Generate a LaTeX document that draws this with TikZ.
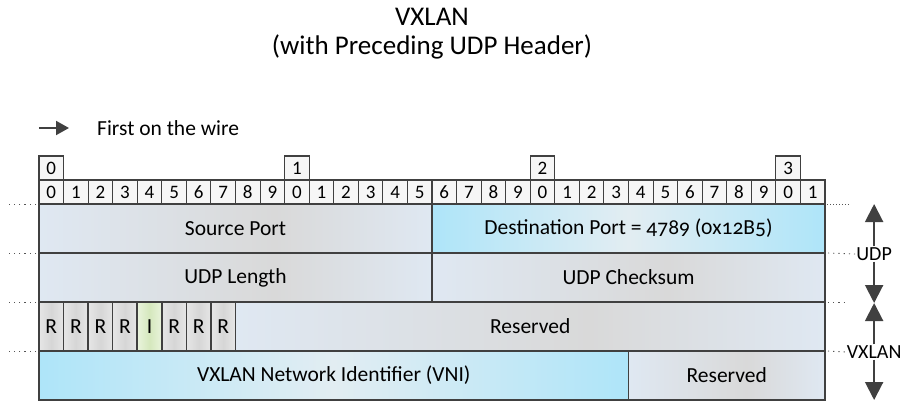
\documentclass[tikz,border=0pt]{standalone}
\usepackage{fontspec}
\setmainfont{Carlito}
\usetikzlibrary{arrows.meta,positioning}

\definecolor{edge}{HTML}{404040}
\definecolor{leadgrey}{HTML}{555555}
\definecolor{bitfill}{HTML}{F6F6F6}
\definecolor{paleblue}{HTML}{DFE8F2}
\definecolor{midgrey}{HTML}{D9D9D9}
\definecolor{cyanfld}{HTML}{AEE5F9}
\definecolor{cyanmid}{HTML}{E2EDF2}
\definecolor{rgreyl}{HTML}{E6E6E6}
\definecolor{rgreym}{HTML}{D6D6D6}
\definecolor{greenl}{HTML}{E9F3DC}
\definecolor{greenm}{HTML}{D5E8BD}

% shadings: the middle 50bp is what lands on the node
\pgfdeclarehorizontalshading{greyfield}{100bp}{color(0bp)=(paleblue); color(25bp)=(paleblue); color(55bp)=(midgrey); color(75bp)=(paleblue); color(100bp)=(paleblue)}
\pgfdeclarehorizontalshading{bluefield}{100bp}{color(0bp)=(cyanfld); color(25bp)=(cyanfld); color(50bp)=(cyanmid); color(75bp)=(cyanfld); color(100bp)=(cyanfld)}
\pgfdeclarehorizontalshading{rfield}{100bp}{color(0bp)=(rgreyl); color(25bp)=(rgreyl); color(50bp)=(rgreym); color(75bp)=(rgreyl); color(100bp)=(rgreyl)}
\pgfdeclarehorizontalshading{ifield}{100bp}{color(0bp)=(greenl); color(25bp)=(greenl); color(50bp)=(greenm); color(75bp)=(greenl); color(100bp)=(greenl)}

\newcommand{\bw}{24.5625pt}
\newcommand{\fieldfont}{\fontsize{21.5}{25}\selectfont}
\newcommand{\bitfont}{\fontsize{19}{21}\selectfont}
\newcommand{\headfont}{\fontsize{27}{29}\selectfont}

\begin{document}
\begin{tikzpicture}[
    x=24.5625pt, y=-1pt,
    bitcell/.style={rectangle, draw=edge, line width=1.1pt, fill=bitfill, minimum width=\bw, minimum height=24pt, inner sep=0pt, outer sep=0pt, anchor=north west, font=\bitfont},
    field/.style={rectangle, draw=edge, line width=1.6pt, shading=greyfield, minimum height=49pt, inner sep=0pt, outer sep=0pt, anchor=north west, font=\fieldfont},
    flagcell/.style={field, minimum width=\bw, shading=rfield},
    leader/.style={leadgrey, line width=0.9pt, dash pattern=on 1.2pt off 4pt},
    sidearrow/.style={-{Triangle[width=18pt,length=18pt]}, edge, line width=2pt},
    legarrow/.style={-{Triangle[width=14pt,length=13pt]}, edge, line width=2pt},
    sidelabel/.style={font=\fontsize{20}{22}\selectfont, inner sep=1pt},
]
    \useasboundingbox (-39pt,0pt) rectangle (865pt,-400pt);

    % Title and legend
    \node[font=\headfont, align=center] (title) at (16,34) {VXLAN\\(with Preceding UDP Header)};
    \coordinate (wirestart) at (0,128);
    \node[font=\fieldfont, anchor=west, inner sep=0pt] (firstwire) at (2.36,128) {First on the wire};
    \draw[legarrow] (wirestart) -- ++(30pt,0);

    % Bit numbers
    \foreach \t in {0,...,3}
        \node[bitcell] (t\t) at (10*\t,156) {\t};
    \foreach \i [evaluate=\i as \d using {int(mod(\i,10))}] in {0,...,31}
        \node[bitcell] (b\i) at (\i,180) {\d};

    % UDP header
    \node[field, minimum width=16*\bw] (srcport) at (0,204) {Source Port};
    \node[field, minimum width=16*\bw, shading=bluefield] (dstport) at (16,204) {Destination Port = {\addfontfeatures{Numbers=OldStyle}4789 (0x12B5)}};
    \node[field, minimum width=16*\bw] (udplen) at (0,253) {UDP Length};
    \node[field, minimum width=16*\bw] (udpsum) at (16,253) {UDP Checksum};

    % VXLAN header
    \foreach \i/\f in {0/R,1/R,2/R,3/R,5/R,6/R,7/R}
        \node[flagcell] (f\i) at (\i,302) {\f};
    \node[flagcell, shading=ifield] (f4) at (4,302) {I};
    \node[field, minimum width=24*\bw] (rsvda) at (8,302) {Reserved};
    \node[field, minimum width=24*\bw, shading=bluefield] (vni) at (0,351) {VXLAN Network Identifier (VNI)};
    \node[field, minimum width=8*\bw] (rsvdb) at (24,351) {Reserved};

    % Left leaders
    \foreach \n in {srcport,udplen,f0,vni}
        \draw[leader] (\n.north west) ++(-3pt,0) -- ++(-30pt,0);

    % Right side spans
    \node[sidelabel] (udplbl) at (34,254) {UDP};
    \node[sidelabel] (vxlbl) at (34,352) {VXLAN};
    \coordinate (udptop) at (34,204);
    \coordinate (udpbot) at (34,303);
    \coordinate (vxbot) at (34,400);
    \draw[leader, dash pattern=on 1pt off 2pt] ([xshift=2pt]dstport.north east) -- ++(22pt,0);
    \draw[leader] ([xshift=3pt]udpsum.north east) -- (udplbl.west);
    \draw[leader] ([xshift=3pt]rsvda.north east) -- ++(20pt,0);
    \draw[leader] ([xshift=3pt]rsvdb.north east) -- (vxlbl.west);
    \draw[sidearrow] (udplbl.north) -- (udptop);
    \draw[sidearrow] (udplbl.south) -- (udpbot);
    \draw[sidearrow] (vxlbl.north) -- (udpbot);
    \draw[sidearrow] (vxlbl.south) -- (vxbot);
\end{tikzpicture}
\end{document}
